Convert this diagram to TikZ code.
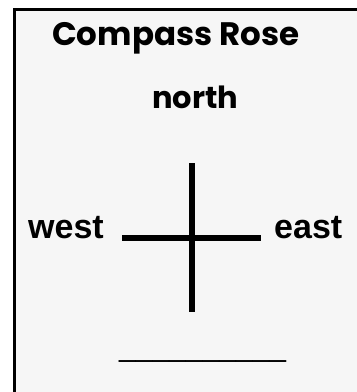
\documentclass[tikz,border=0pt]{standalone}
\usepackage{fontspec}
\setmainfont{Liberation Sans}
\newfontfamily\geofont{Poppins}
\usetikzlibrary{positioning}
\definecolor{paper}{HTML}{F6F6F6}
\tikzset{
  ttl/.style  ={inner sep=0pt,anchor=base west,font=\geofont\bfseries\fontsize{32.5}{36}\selectfont},
  dir/.style  ={inner sep=0pt,anchor=base west,font=\bfseries\fontsize{34}{40}\selectfont},
  arm/.style  ={line width=5.5pt},
  blank/.style={inner sep=0pt,anchor=base west,font=\fontsize{30}{34}\selectfont},
}
\begin{document}
\begin{tikzpicture}[x=1pt,y=-1pt]
  \useasboundingbox (0,0) rectangle (357,392);
  \fill[white] (0,0) rectangle (357,392);
  \fill[paper] (14,10) rectangle (357,392);
  \draw[line width=3pt] (14.2,392) -- (14.2,9.8) -- (357,9.8);
  % labels
  \node[ttl] (title) at (52,45) {Compass Rose};
  \node[ttl,font=\geofont\bfseries\fontsize{30.5}{34}\selectfont] (north) at (152,108) {north};
  \node[dir] (west) at (28,238) {west};
  \node[dir] (east) at (274,238) {east};
  % the cross
  \coordinate (n) at (192,163);
  \coordinate (s) at (192,312);
  \coordinate (w) at (122,238);
  \coordinate (e) at (261,238);
  \draw[arm] (n) -- (s);
  \draw[arm] (w) -- (e);
  \node[blank] (line) at (119,356) {\_\_\_\_\_\_\_\_\_\_};
\end{tikzpicture}
\end{document}
